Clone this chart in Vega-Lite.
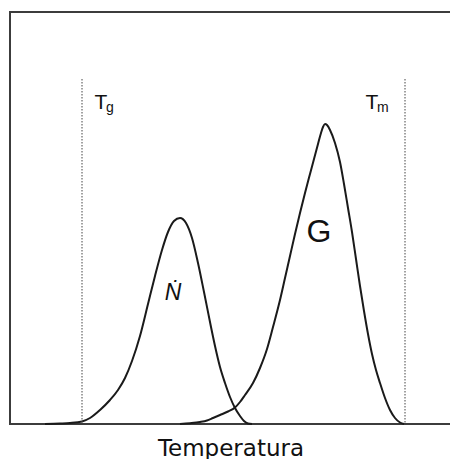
{
  "$schema": "https://vega.github.io/schema/vega-lite/v6.json",
  "width": 441,
  "height": 412,
  "autosize": {"type": "none"},
  "padding": {"left": 10, "top": 12, "right": 0, "bottom": 35},
  "background": "white",
  "config": {
    "view": {"stroke": "#3c3c3c", "strokeWidth": 2},
    "font": "DejaVu Sans"
  },
  "datasets": {
    "curves": [
      {"series": "N", "x": 45, "h": 0},
      {"series": "N", "x": 60, "h": 0.5},
      {"series": "N", "x": 70, "h": 1},
      {"series": "N", "x": 82, "h": 2.5},
      {"series": "N", "x": 90, "h": 6},
      {"series": "N", "x": 100, "h": 14},
      {"series": "N", "x": 110, "h": 24},
      {"series": "N", "x": 118, "h": 34},
      {"series": "N", "x": 125, "h": 46},
      {"series": "N", "x": 132, "h": 63},
      {"series": "N", "x": 140, "h": 88},
      {"series": "N", "x": 148, "h": 120},
      {"series": "N", "x": 155, "h": 148},
      {"series": "N", "x": 162, "h": 174},
      {"series": "N", "x": 168, "h": 192},
      {"series": "N", "x": 174, "h": 203},
      {"series": "N", "x": 180, "h": 206},
      {"series": "N", "x": 186, "h": 201},
      {"series": "N", "x": 192, "h": 186},
      {"series": "N", "x": 198, "h": 161},
      {"series": "N", "x": 204, "h": 132},
      {"series": "N", "x": 211, "h": 97},
      {"series": "N", "x": 215, "h": 78},
      {"series": "N", "x": 220, "h": 57},
      {"series": "N", "x": 225, "h": 41},
      {"series": "N", "x": 230, "h": 27},
      {"series": "N", "x": 235, "h": 16},
      {"series": "N", "x": 240, "h": 8},
      {"series": "N", "x": 244, "h": 3},
      {"series": "N", "x": 248, "h": 0.5},
      {"series": "N", "x": 252, "h": 0},
      {"series": "G", "x": 180, "h": 0},
      {"series": "G", "x": 190, "h": 0.8},
      {"series": "G", "x": 200, "h": 2},
      {"series": "G", "x": 207, "h": 3.5},
      {"series": "G", "x": 213, "h": 6},
      {"series": "G", "x": 220, "h": 9},
      {"series": "G", "x": 228, "h": 12.5},
      {"series": "G", "x": 235, "h": 16.5},
      {"series": "G", "x": 240, "h": 22},
      {"series": "G", "x": 245, "h": 29},
      {"series": "G", "x": 253, "h": 41},
      {"series": "G", "x": 260, "h": 56},
      {"series": "G", "x": 267, "h": 75},
      {"series": "G", "x": 273, "h": 97},
      {"series": "G", "x": 280, "h": 124},
      {"series": "G", "x": 285, "h": 146},
      {"series": "G", "x": 290, "h": 168},
      {"series": "G", "x": 295, "h": 190},
      {"series": "G", "x": 300, "h": 211},
      {"series": "G", "x": 305, "h": 231},
      {"series": "G", "x": 310, "h": 250},
      {"series": "G", "x": 314, "h": 265},
      {"series": "G", "x": 318, "h": 280},
      {"series": "G", "x": 321, "h": 291},
      {"series": "G", "x": 323, "h": 297},
      {"series": "G", "x": 325, "h": 300},
      {"series": "G", "x": 327, "h": 299},
      {"series": "G", "x": 330, "h": 294},
      {"series": "G", "x": 335, "h": 281},
      {"series": "G", "x": 340, "h": 262},
      {"series": "G", "x": 344, "h": 240},
      {"series": "G", "x": 348, "h": 216},
      {"series": "G", "x": 352, "h": 192},
      {"series": "G", "x": 356, "h": 165},
      {"series": "G", "x": 360, "h": 138},
      {"series": "G", "x": 364, "h": 113},
      {"series": "G", "x": 368, "h": 90},
      {"series": "G", "x": 372, "h": 70},
      {"series": "G", "x": 376, "h": 54},
      {"series": "G", "x": 380, "h": 41},
      {"series": "G", "x": 385, "h": 26},
      {"series": "G", "x": 390, "h": 14},
      {"series": "G", "x": 395, "h": 6},
      {"series": "G", "x": 400, "h": 1.5},
      {"series": "G", "x": 404, "h": 0}
    ],
    "bounds": [
      {"name": "Tg", "x": 82, "top": 345, "bottom": 0},
      {"name": "Tm", "x": 405, "top": 345, "bottom": 0}
    ],
    "tlabels": [
      {"base": "T", "sub": "g", "x": 101, "y": 315},
      {"base": "T", "sub": "m", "x": 372, "y": 315}
    ]
  },
  "layer": [
    {
      "data": {"name": "curves"},
      "mark": {"type": "line", "color": "#1a1a1a", "strokeWidth": 2, "interpolate": "monotone"},
      "encoding": {
        "x": {"field": "x", "type": "quantitative", "scale": {"domain": [10, 451], "nice": false, "zero": false},
          "axis": {"title": "Temperatura", "domain": false, "ticks": false, "labels": false, "grid": false,
            "titleFont": "DejaVu Sans", "titleFontSize": 23, "titleFontWeight": "normal", "titleColor": "#111111",
            "titleBaseline": "alphabetic", "titleY": 31}},
        "y": {"field": "h", "type": "quantitative", "scale": {"domain": [0, 412], "nice": false}, "axis": null},
        "detail": {"field": "series"}
      }
    },
    {
      "data": {"name": "bounds"},
      "mark": {"type": "rule", "color": "#444444", "strokeWidth": 1, "strokeDash": [1.5, 1.5]},
      "encoding": {
        "x": {"field": "x", "type": "quantitative"},
        "y": {"field": "top", "type": "quantitative"},
        "y2": {"field": "bottom"}
      }
    },
    {
      "data": {"name": "tlabels"},
      "mark": {"type": "text", "font": "Liberation Sans", "fontSize": 21, "color": "#111111", "baseline": "alphabetic", "align": "center"},
      "encoding": {
        "x": {"field": "x", "type": "quantitative"},
        "y": {"field": "y", "type": "quantitative"},
        "text": {"field": "base"}
      }
    },
    {
      "data": {"name": "tlabels"},
      "mark": {"type": "text", "font": "Liberation Sans", "fontSize": 14, "color": "#111111", "baseline": "alphabetic", "align": "left", "dx": 5, "dy": 3},
      "encoding": {
        "x": {"field": "x", "type": "quantitative"},
        "y": {"field": "y", "type": "quantitative"},
        "text": {"field": "sub"}
      }
    },
    {
      "data": {"values": [{"label": "Ṅ", "x": 173, "y": 124}]},
      "mark": {"type": "text", "font": "Liberation Sans", "fontSize": 23, "fontStyle": "italic", "color": "#111111", "baseline": "alphabetic", "align": "center"},
      "encoding": {
        "x": {"field": "x", "type": "quantitative"},
        "y": {"field": "y", "type": "quantitative"},
        "text": {"field": "label"}
      }
    },
    {
      "data": {"values": [{"label": "G", "x": 319, "y": 182}]},
      "mark": {"type": "text", "font": "Liberation Sans", "fontSize": 32, "color": "#111111", "baseline": "alphabetic", "align": "center"},
      "encoding": {
        "x": {"field": "x", "type": "quantitative"},
        "y": {"field": "y", "type": "quantitative"},
        "text": {"field": "label"}
      }
    }
  ]
}
